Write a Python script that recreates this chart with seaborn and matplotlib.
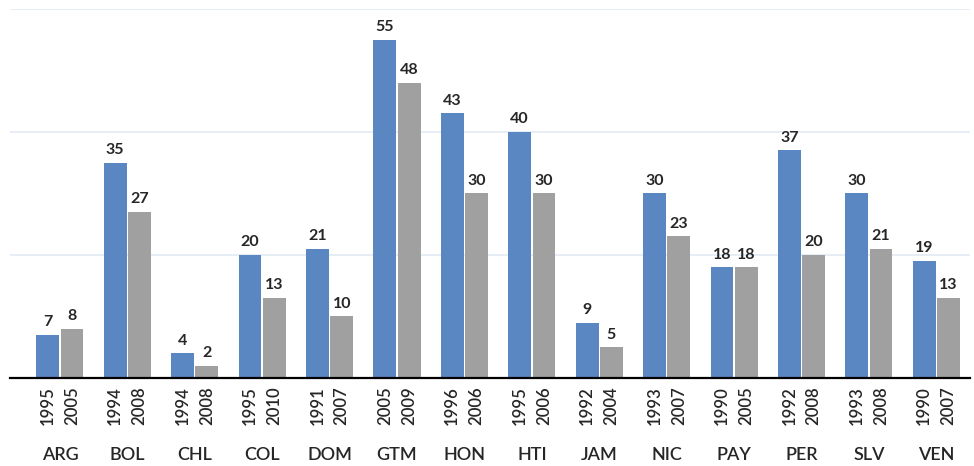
import pandas as pd
import matplotlib
matplotlib.use("Agg")
import matplotlib.pyplot as plt
import seaborn as sns

countries = ["ARG", "BOL", "CHL", "COL", "DOM", "GTM", "HON", "HTI", "JAM", "NIC", "PAY", "PER", "SLV", "VEN"]
first_vals = [7, 35, 4, 20, 21, 55, 43, 40, 9, 30, 18, 37, 30, 19]
second_vals = [8, 27, 2, 13, 10, 48, 30, 30, 5, 23, 18, 20, 21, 13]
first_years = ["1995", "1994", "1994", "1995", "1991", "2005", "1996", "1995", "1992", "1993", "1990", "1992", "1993", "1990"]
second_years = ["2005", "2008", "2008", "2010", "2007", "2009", "2006", "2006", "2004", "2007", "2005", "2008", "2008", "2007"]

df = pd.DataFrame({
    "country": countries * 2,
    "value": first_vals + second_vals,
    "survey": ["first"] * len(countries) + ["second"] * len(countries),
})

sns.set_style("white")
plt.rcParams["font.family"] = ["Lato", "DejaVu Sans"]

fig = plt.figure(figsize=(9.74, 4.66), dpi=100)
ax = fig.add_axes([0.0103, 0.189, 0.9856, 0.792])

sns.barplot(data=df, x="country", y="value", hue="survey", order=countries,
            hue_order=["first", "second"], palette=["#5A87C2", "#A0A0A0"],
            saturation=1, width=0.72, gap=0.06, legend=False, ax=ax, edgecolor="none")

for cont in ax.containers:
    ax.bar_label(cont, padding=4, fontsize=11.5, fontweight="bold", color="#262626")

ax.set_ylim(0, 60)
ax.set_xlim(-0.74, 13.5)
ax.set_yticks([20, 40, 60])
ax.set_yticklabels([])
ax.grid(axis="y", color="#E3EAF2", linewidth=1.2)
ax.set_axisbelow(True)
for s in ["top", "right", "left"]:
    ax.spines[s].set_visible(False)
ax.spines["bottom"].set_color("black")
ax.spines["bottom"].set_linewidth(1.6)
ax.tick_params(axis="y", length=0)

# years under each bar, country names below
off = 0.18
pos = [i - off for i in range(len(countries))] + [i + off for i in range(len(countries))]
ax.set_xticks(range(len(countries)))
ax.set_xticklabels(countries, fontsize=13, fontweight="semibold", color="#262626")
ax.set_xticks(pos, minor=True)
ax.set_xticklabels(first_years + second_years, minor=True, rotation=90, fontsize=12,
                   fontweight="semibold", color="#262626")
ax.tick_params(axis="x", which="major", length=0, pad=50)
ax.tick_params(axis="x", which="minor", length=0, pad=6)
ax.set_xlabel("")
ax.set_ylabel("")

fig.savefig("out.png", dpi=100)
